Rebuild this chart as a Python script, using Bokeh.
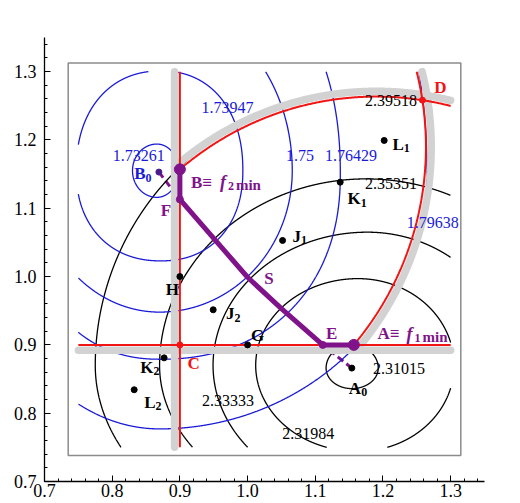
import numpy as np
from bokeh.plotting import figure
from bokeh.models import Range1d, FixedTicker, Label
from bokeh.core.properties import value
from bokeh.embed import file_html
from bokeh.resources import INLINE

SERIF = "Liberation Serif"

# ---------------- values ----------------
# contour region of the plot
region_lo = 0.75
region_hi = 1.30
# grey frame around the contour region
frame_box = [0.735, 1.315, 0.738, 1.3125]   # left, right, bottom, top

# f1 contours (black): centre, radii left/right/down/up, shape exponent
f1_levels = ["2.31015", "2.31984", "2.33333", "2.35351", "2.39518"]
f1_cx = [1.154, 1.163, 1.177, 1.175, 1.175]
f1_cy = [0.866, 0.870, 0.870, 0.870, 0.870]
f1_rl = [0.038, 0.151, 0.228, 0.305, 0.400]
f1_rr = [0.039, 0.142, 0.210, 0.304, 0.450]
f1_rd = [0.030, 0.126, 0.190, 0.221, 0.282]
f1_ru = [0.034, 0.127, 0.195, 0.273, 0.400]
f1_n = [2.0, 2.0, 2.0, 2.0, 2.0]
f1_lab_x = [1.2236, 1.0898, 0.9709, 1.2117, 1.2117]
f1_lab_y = [0.8654, 0.7703, 0.8186, 1.1363, 1.2578]

# f2 contours (blue)
f2_levels = ["1.73261", "1.73947", "1.75", "1.76429", "1.79638"]
f2_cx = [0.866, 0.872, 0.870, 0.870, 0.870]
f2_cy = [1.155, 1.155, 1.155, 1.150, 1.155]
f2_rl = [0.036, 0.125, 0.184, 0.210, 0.280]
f2_rr = [0.032, 0.121, 0.196, 0.267, 0.395]
f2_rd = [0.039, 0.132, 0.207, 0.271, 0.378]
f2_ru = [0.039, 0.146, 0.241, 0.340, 0.600]
f2_n = [2.0, 2.2, 2.0, 2.2, 2.0]
f2_lab_x = [0.8394, 0.9705, 1.0773, 1.1526, 1.2737]
f2_lab_y = [1.1773, 1.2476, 1.1773, 1.1773, 1.0797]

# constraints: x1 >= 0.9, x2 >= 0.9 and two circular constraints
x1_min = 0.9
x2_min = 0.9
g_cx = [1.19, 0.8155]
g_cy = [0.8155, 1.19]
g_r = [0.448, 0.448]

# Pareto set B - F - S - E - A
pareto_x = [0.9, 0.9, 0.95, 1.0, 1.05, 1.111, 1.157]
pareto_y = [1.157, 1.113, 1.056, 0.999, 0.953, 0.9, 0.9]

# named points
pt_main = ["A", "B", "K", "L", "J", "J", "G", "H", "K", "L"]
pt_sub = ["0", "0", "1", "1", "1", "2", "", "", "2", "2"]
pt_x = [1.154, 0.869, 1.1368, 1.2018, 1.0517, 0.9492, 1.0, 0.9, 0.8767, 0.8325]
pt_y = [0.866, 1.153, 1.1382, 1.1993, 1.0529, 0.9514, 0.9, 1.0, 0.881, 0.8343]
pt_lab_x = [1.1496, 0.8325, 1.1477, 1.2142, 1.0665, 0.968, 1.0049, 0.8793, 0.8414, 0.8473]
pt_lab_y = [0.8362, 1.1505, 1.1139, 1.1934, 1.0587, 0.9455, 0.9138, 0.9807, 0.8673, 0.8161]

red_pt_names = ["C", "D"]
red_pt_x = [0.9, 1.2583]
red_pt_y = [0.9, 1.2583]
red_lab_x = [0.9114, 1.2756]
red_lab_y = [0.8723, 1.2764]

purple_names = ["E", "F", "S"]
purple_lab_x = [1.1157, 0.8719, 1.0245]
purple_lab_y = [0.9163, 1.0968, 0.9968]

# ---------------- styling ----------------
BLACK = "#000000"
BLUE = "#1a1ad6"
RED = "#f01414"
GREY = "#d2d2d2"
PURPLE = "#80138a"

p = figure(width=520, height=503, x_range=Range1d(0.7, 1.35), y_range=Range1d(0.7, 1.35),
           output_backend="svg", toolbar_location=None,
           min_border_left=44, min_border_right=36, min_border_top=37, min_border_bottom=22)
p.outline_line_color = None
p.grid.visible = False
p.background_fill_color = "white"

ticks = [0.7, 0.8, 0.9, 1.0, 1.1, 1.2, 1.3]
minor = [round(0.7 + 0.02 * i, 2) for i in range(33)]
for ax in (p.xaxis[0], p.yaxis[0]):
    ax.ticker = FixedTicker(ticks=ticks, minor_ticks=minor)
    ax.major_label_overrides = {t: f"{t:.1f}" for t in ticks}
    ax.major_label_text_font = SERIF
    ax.major_label_text_font_size = "18px"
    ax.major_label_text_color = BLACK
    ax.axis_line_color = BLACK
    ax.axis_line_width = 1.3
    ax.major_tick_line_color = BLACK
    ax.minor_tick_line_color = BLACK
    ax.major_tick_in = 6
    ax.major_tick_out = 0
    ax.minor_tick_in = 3
    ax.minor_tick_out = 0
p.xaxis.major_label_standoff = 2
p.yaxis.major_label_standoff = 8

# frame
p.quad(left=[frame_box[0]], right=[frame_box[1]], bottom=[frame_box[2]], top=[frame_box[3]],
       fill_color=None, line_color="#8c8c8c", line_width=1.5)


def contour_curve(cx, cy, rl, rr, rd, ru, n, num=4000):
    t = np.linspace(0.0, 2 * np.pi, num)
    c, s = np.cos(t), np.sin(t)
    rx = np.where(c >= 0, rr, rl)
    ry = np.where(s >= 0, ru, rd)
    x = cx + rx * np.sign(c) * np.abs(c) ** (2.0 / n)
    y = cy + ry * np.sign(s) * np.abs(s) ** (2.0 / n)
    out = (x < region_lo) | (x > region_hi) | (y < region_lo) | (y > region_hi)
    x[out] = np.nan
    y[out] = np.nan
    return x, y


# dashed purple links A0 -> E and B0 -> F
p.line([pt_x[0], pareto_x[5]], [pt_y[0], pareto_y[5]], line_color=PURPLE, line_width=3, line_dash="7 4")
p.line([pt_x[1], pareto_x[1]], [pt_y[1], pareto_y[1]], line_color=PURPLE, line_width=3, line_dash="7 4")

# contours
for i in range(len(f1_levels)):
    x, y = contour_curve(f1_cx[i], f1_cy[i], f1_rl[i], f1_rr[i], f1_rd[i], f1_ru[i], f1_n[i])
    p.line(x, y, line_color=BLACK, line_width=1.3)
for i in range(len(f2_levels)):
    x, y = contour_curve(f2_cx[i], f2_cy[i], f2_rl[i], f2_rr[i], f2_rd[i], f2_ru[i], f2_n[i])
    p.line(x, y, line_color=BLUE, line_width=1.3)

# grey bands on the infeasible side of each constraint
off = 0.0078
gx = x1_min - off
gy = x2_min - off
p.line([gx, gx], [region_lo, region_hi], line_color=GREY, line_width=7.5, line_cap="round")
p.line([region_lo, region_hi], [gy, gy], line_color=GREY, line_width=7.5, line_cap="round")
xs = np.linspace(gx, region_hi, 300)
p.line(xs, g_cy[0] + np.sqrt((g_r[0] + off) ** 2 - (xs - g_cx[0]) ** 2),
       line_color=GREY, line_width=7.5, line_cap="round")
ys = np.linspace(gy, region_hi, 300)
p.line(g_cx[1] + np.sqrt((g_r[1] + off) ** 2 - (ys - g_cy[1]) ** 2), ys,
       line_color=GREY, line_width=7.5, line_cap="round")

# red constraint lines
p.line([x1_min, x1_min], [region_lo, region_hi], line_color=RED, line_width=2)
p.line([region_lo, region_hi], [x2_min, x2_min], line_color=RED, line_width=2)
xs = np.linspace(x1_min, region_hi, 300)
p.line(xs, g_cy[0] + np.sqrt(g_r[0] ** 2 - (xs - g_cx[0]) ** 2), line_color=RED, line_width=2)
ys = np.linspace(x2_min, region_hi, 300)
p.line(g_cx[1] + np.sqrt(g_r[1] ** 2 - (ys - g_cy[1]) ** 2), ys, line_color=RED, line_width=2)

# Pareto front
p.line(pareto_x, pareto_y, line_color=PURPLE, line_width=5, line_join="round", line_cap="round")
p.scatter([pareto_x[1], pareto_x[5]], [pareto_y[1], pareto_y[5]], size=7, color=PURPLE)
p.scatter([pareto_x[0], pareto_x[-1]], [pareto_y[0], pareto_y[-1]], size=11, color=PURPLE)

# points
p.scatter([pt_x[0]] + pt_x[2:], [pt_y[0]] + pt_y[2:], size=6, color=BLACK)
p.scatter([pt_x[1]], [pt_y[1]], size=6, color="#4b1b8c")
p.scatter(red_pt_x, red_pt_y, size=6, color=RED)

# contour labels
p.text(f1_lab_x, f1_lab_y, text=f1_levels, text_font=value(SERIF), text_font_size="16px",
       text_color=BLACK, text_align="center", text_baseline="middle")
p.text(f2_lab_x, f2_lab_y, text=f2_levels, text_font=value(SERIF), text_font_size="16px",
       text_color=BLUE, text_align="center", text_baseline="middle")

# point labels with subscripts
main_w = {"A": 12.3, "B": 11.3, "K": 13.2, "L": 11.3, "J": 8.5, "G": 12.3, "H": 13.2}
for i in range(len(pt_main)):
    col = BLUE if i == 1 else BLACK
    p.text([pt_lab_x[i]], [pt_lab_y[i]], text=[pt_main[i]], text_font=value(SERIF),
           text_font_style="bold", text_font_size="17px", text_color=col,
           text_align="left", text_baseline="middle")
    if pt_sub[i]:
        p.text([pt_lab_x[i]], [pt_lab_y[i]], text=[pt_sub[i]], text_font=value(SERIF),
               text_font_style="bold", text_font_size="12px", text_color=col,
               text_align="left", text_baseline="middle", x_offset=main_w[pt_main[i]], y_offset=4)

p.text(red_lab_x, red_lab_y, text=red_pt_names, text_font=value(SERIF), text_font_style="bold",
       text_font_size="17px", text_color=RED, text_align="left", text_baseline="middle")
p.text(purple_lab_x, purple_lab_y, text=purple_names, text_font=value(SERIF), text_font_style="bold",
       text_font_size="17px", text_color=PURPLE, text_align="left", text_baseline="middle")

# "A≡ f1 min" and "B≡ f2 min"
opt_lab = [("A\u2261", "1", 1.192, 0.9163), ("B\u2261", "2", 0.9163, 1.1382)]
for head, idx, lx, ly in opt_lab:
    p.text([lx], [ly], text=[head], text_font=value(SERIF), text_font_style="bold",
           text_font_size="17px", text_color=PURPLE, text_align="left", text_baseline="middle")
    p.text([lx], [ly], text=["f"], text_font=value(SERIF), text_font_style="bold italic",
           text_font_size="18px", text_color=PURPLE, text_align="left", text_baseline="middle",
           x_offset=29)
    p.text([lx], [ly], text=[idx], text_font=value(SERIF), text_font_style="bold",
           text_font_size="12px", text_color=PURPLE, text_align="left", text_baseline="middle",
           x_offset=37, y_offset=4)
    p.text([lx], [ly], text=["min"], text_font=value(SERIF), text_font_style="bold",
           text_font_size="15px", text_color=PURPLE, text_align="left", text_baseline="middle",
           x_offset=45, y_offset=3)

# axis titles x1, x2
p.add_layout(Label(x=1.3767, y=0.699, text="x", text_font=SERIF, text_font_style="italic",
                   text_font_size="18px", text_align="left", text_baseline="middle"))
p.add_layout(Label(x=1.3904, y=0.6941, text="1", text_font=SERIF,
                   text_font_size="12px", text_align="left", text_baseline="middle"))
p.add_layout(Label(x=0.6873, y=1.3774, text="x", text_font=SERIF, text_font_style="italic",
                   text_font_size="18px", text_align="left", text_baseline="middle"))
p.add_layout(Label(x=0.7021, y=1.3725, text="2", text_font=SERIF,
                   text_font_size="12px", text_align="left", text_baseline="middle"))

open("out.html", "w").write(file_html(p, INLINE))
